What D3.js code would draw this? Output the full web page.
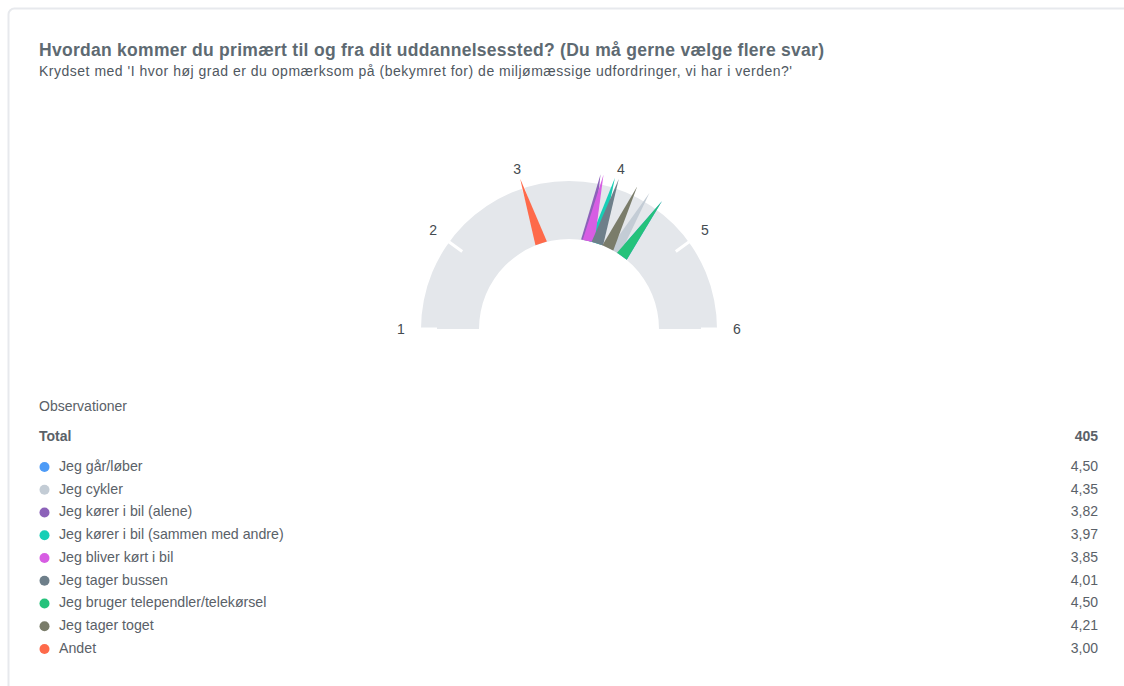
<!DOCTYPE html>
<html>
<head>
<meta charset="utf-8">
<script src="https://cdn.jsdelivr.net/npm/d3@7"></script>
<style>
  html, body { margin: 0; padding: 0; background: #ffffff; }
  svg { display: block; font-family: "Liberation Sans", Arial, sans-serif; }
</style>
</head>
<body>
<svg id="chart" width="1124" height="686"></svg>
<script>
// Survey answers: mean score on the 1–6 concern scale per transport mode
const categories = [
  "Jeg går/løber",
  "Jeg cykler",
  "Jeg kører i bil (alene)",
  "Jeg kører i bil (sammen med andre)",
  "Jeg bliver kørt i bil",
  "Jeg tager bussen",
  "Jeg bruger telependler/telekørsel",
  "Jeg tager toget",
  "Andet"
];
const values = [4.50, 4.35, 3.82, 3.97, 3.85, 4.01, 4.50, 4.21, 3.00];
const colors = ["#4d9bf7", "#c3ccd5", "#8c62b9", "#17cfb6", "#d75de3", "#6e7f8a", "#25c27b", "#7a7c6a", "#fe6a4a"];
const gaugeTicks = [1, 2, 3, 4, 5, 6];
const totalLabel = "Total";
const totalCount = 405;

const title = "Hvordan kommer du primært til og fra dit uddannelsessted? (Du må gerne vælge flere svar)";
const subtitle = "Krydset med 'I hvor høj grad er du opmærksom på (bekymret for) de miljømæssige udfordringer, vi har i verden?'";

const svg = d3.select("#chart");

// card frame
svg.append("rect")
  .attr("x", 8.5).attr("y", 8.5)
  .attr("width", 1300).attr("height", 900)
  .attr("rx", 6)
  .attr("fill", "#ffffff")
  .attr("stroke", "#e7e9ed")
  .attr("stroke-width", 2);

svg.append("text")
  .attr("x", 39).attr("y", 56)
  .attr("font-size", 17.5).attr("font-weight", "bold")
  .attr("fill", "#5e6a72")
  .attr("textLength", 785).attr("lengthAdjust", "spacing")
  .text(title);

svg.append("text")
  .attr("x", 39).attr("y", 76)
  .attr("font-size", 14)
  .attr("fill", "#50585f")
  .attr("textLength", 753).attr("lengthAdjust", "spacing")
  .text(subtitle);

// gauge
const cx = 569, cy = 329;
const rOuter = 148, rInner = 90, rTip = 158, rLabel = 168;
const angle = d3.scaleLinear().domain([1, 6]).range([-Math.PI / 2, Math.PI / 2]);

const g = svg.append("g").attr("transform", `translate(${cx},${cy})`);

g.append("path")
  .attr("d", d3.arc()({
    innerRadius: rInner, outerRadius: rOuter,
    startAngle: angle(1), endAngle: angle(6)
  }))
  .attr("fill", "#e4e7eb");

// white tick marks at the outer edge
g.selectAll("line.tick")
  .data(gaugeTicks)
  .join("line")
  .attr("class", "tick")
  .attr("x1", d => Math.sin(angle(d)) * (rOuter - 16))
  .attr("y1", d => -Math.cos(angle(d)) * (rOuter - 16))
  .attr("x2", d => Math.sin(angle(d)) * (rOuter + 1))
  .attr("y2", d => -Math.cos(angle(d)) * (rOuter + 1))
  .attr("stroke", "#ffffff")
  .attr("stroke-width", 3);

g.selectAll("text.tlabel")
  .data(gaugeTicks)
  .join("text")
  .attr("class", "tlabel")
  .attr("x", d => Math.sin(angle(d)) * rLabel)
  .attr("y", d => -Math.cos(angle(d)) * rLabel)
  .attr("dy", "0.35em")
  .attr("text-anchor", "middle")
  .attr("font-size", 14)
  .attr("fill", "#444b50")
  .text(d => d);

// needles: triangles from the inner edge out past the band
function needle(v) {
  const a = angle(v);
  const ux = Math.sin(a), uy = -Math.cos(a);
  const px = Math.cos(a), py = Math.sin(a);
  const hw = 6;
  const b1 = [ux * rInner + px * hw, uy * rInner + py * hw];
  const b2 = [ux * rInner - px * hw, uy * rInner - py * hw];
  const t = [ux * rTip, uy * rTip];
  return d3.line()([b1, t, b2]) + "Z";
}

g.selectAll("path.needle")
  .data(values.map((v, i) => ({ v, c: colors[i] })))
  .join("path")
  .attr("class", "needle")
  .attr("d", d => needle(d.v))
  .attr("fill", d => d.c);

// observations table
const fmt = v => d3.format(".2f")(v).replace(".", ",");
const rowY = d3.scaleLinear().domain([0, categories.length - 1]).range([466, 648]);

svg.append("text")
  .attr("x", 39).attr("y", 411)
  .attr("font-size", 14).attr("fill", "#5a6168")
  .text("Observationer");

svg.append("text")
  .attr("x", 39).attr("y", 441)
  .attr("font-size", 14).attr("font-weight", "bold").attr("fill", "#5a6168")
  .text(totalLabel);

svg.append("text")
  .attr("x", 1098).attr("y", 441)
  .attr("text-anchor", "end")
  .attr("font-size", 14).attr("font-weight", "bold").attr("fill", "#5a6168")
  .text(totalCount);

const rows = svg.selectAll("g.row")
  .data(categories.map((c, i) => ({ c, v: values[i], col: colors[i], i })))
  .join("g")
  .attr("class", "row")
  .attr("transform", d => `translate(0,${rowY(d.i)})`);

rows.append("circle")
  .attr("cx", 44.5).attr("cy", 1)
  .attr("r", 5)
  .attr("fill", d => d.col);

rows.append("text")
  .attr("x", 59).attr("y", 0).attr("dy", "0.35em")
  .attr("font-size", 14.2).attr("fill", "#5a6168")
  .text(d => d.c);

rows.append("text")
  .attr("x", 1098).attr("y", 0).attr("dy", "0.35em")
  .attr("text-anchor", "end")
  .attr("font-size", 14).attr("fill", "#5a6168")
  .text(d => fmt(d.v));
</script>
</body>
</html>
